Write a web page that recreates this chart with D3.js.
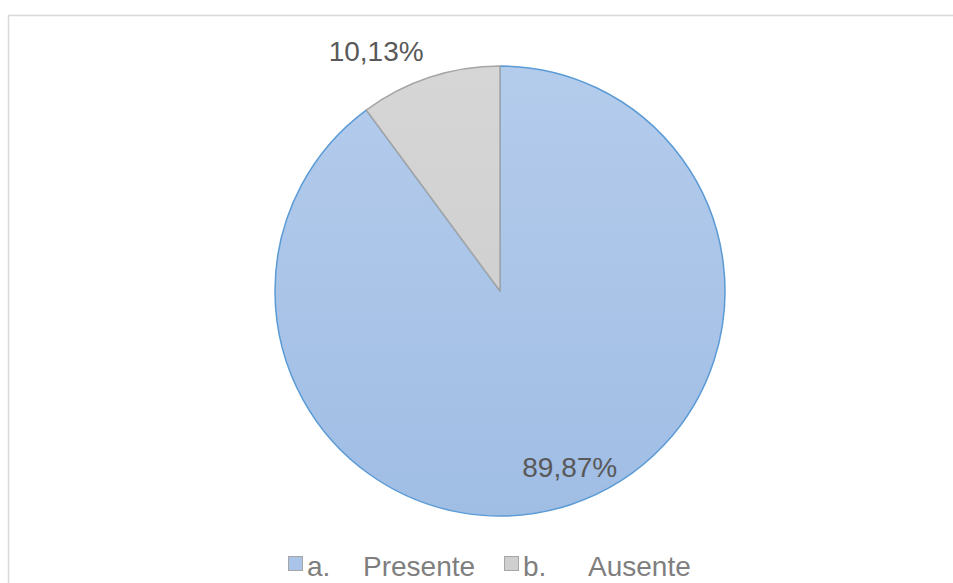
<!DOCTYPE html>
<html>
<head>
<meta charset="utf-8">
<script src="https://cdn.jsdelivr.net/npm/d3@7"></script>
<style>
  body { margin: 0; background: #fff; }
  svg { display: block; font-family: "Liberation Sans", Arial, sans-serif; }
</style>
</head>
<body>
<div id="chart"></div>
<script>
// Data
const categories = ['a.', 'b.'];
const names = ['Presente', 'Ausente'];
const values = [89.87, 10.13];
const labels = ['89,87%', '10,13%'];

const WIDTH = 953;
const HEIGHT = 583;
const CENTER = { x: 500, y: 291 };
const RADIUS = 225;

const fills = ['url(#blueGrad)', 'url(#grayGrad)'];
const strokes = ['#5b9bd5', '#a5a5a5'];
const swatch = ['#a9c4e8', '#cfcfcf'];

setup();

function setup () {
  const svg = d3.select('#chart')
    .append('svg')
    .attr('width', WIDTH)
    .attr('height', HEIGHT);

  const defs = svg.append('defs');
  addGradient(defs, 'blueGrad', '#b4ccec', '#a0bde4');
  addGradient(defs, 'grayGrad', '#d6d6d6', '#cbcbcb');

  // chart frame, runs off the right and bottom edge
  svg.append('rect')
    .attr('x', 8.5)
    .attr('y', 15.5)
    .attr('width', 1000)
    .attr('height', 1000)
    .attr('fill', '#fff')
    .attr('stroke', '#d9d9d9')
    .attr('stroke-width', 1.5);

  const data = values.map((v, i) => ({ cat: categories[i], name: names[i], value: v, label: labels[i], i: i }));

  const pie = d3.pie()
    .value(d => d.value)
    .sort(null);

  const arc = d3.arc()
    .innerRadius(0)
    .outerRadius(RADIUS);

  const arcs = pie(data);

  const g = svg.append('g')
    .attr('transform', `translate(${CENTER.x}, ${CENTER.y})`);

  g.selectAll('path')
    .data(arcs)
    .join('path')
    .attr('d', arc)
    .attr('fill', d => fills[d.data.i])
    .attr('stroke', d => strokes[d.data.i])
    .attr('stroke-width', 1.5)
    .attr('stroke-linejoin', 'round');

  // data labels: first inside, second outside (best fit)
  const inner = d3.arc().innerRadius(RADIUS * 0.82).outerRadius(RADIUS * 0.82);
  const edge = d3.arc().innerRadius(RADIUS).outerRadius(RADIUS);

  g.selectAll('text.label')
    .data(arcs)
    .join('text')
    .attr('class', 'label')
    .attr('font-size', 28)
    .attr('fill', '#595959')
    .attr('text-anchor', d => d.data.i === 0 ? 'middle' : 'end')
    .attr('x', d => d.data.i === 0 ? inner.centroid(d)[0] + 12 : edge.centroid(d)[0] - 6)
    .attr('y', d => d.data.i === 0 ? inner.centroid(d)[1] + 11 : edge.centroid(d)[1] - 16)
    .text(d => d.data.label);

  // legend
  const legendX = [288, 504];
  const nameOffset = [75, 84];
  const legend = svg.append('g').attr('class', 'legend');

  const items = legend.selectAll('g')
    .data(data)
    .join('g')
    .attr('transform', d => `translate(${legendX[d.i]}, 0)`);

  items.append('rect')
    .attr('x', 0.5)
    .attr('y', 556.5)
    .attr('width', 14)
    .attr('height', 14)
    .attr('fill', d => swatch[d.i])
    .attr('stroke', '#a6a6a6')
    .attr('stroke-width', 1);

  items.append('text')
    .attr('x', 19)
    .attr('y', 576)
    .attr('font-size', 28)
    .attr('fill', '#7f7f7f')
    .text(d => d.cat);

  items.append('text')
    .attr('x', d => nameOffset[d.i])
    .attr('y', 576)
    .attr('font-size', 28)
    .attr('fill', '#7f7f7f')
    .text(d => d.name);
}

function addGradient (defs, id, top, bottom) {
  const grad = defs.append('linearGradient')
    .attr('id', id)
    .attr('gradientUnits', 'userSpaceOnUse')
    .attr('x1', 0).attr('y1', -RADIUS)
    .attr('x2', 0).attr('y2', RADIUS);
  grad.append('stop').attr('offset', '0%').attr('stop-color', top);
  grad.append('stop').attr('offset', '100%').attr('stop-color', bottom);
}
</script>
</body>
</html>
